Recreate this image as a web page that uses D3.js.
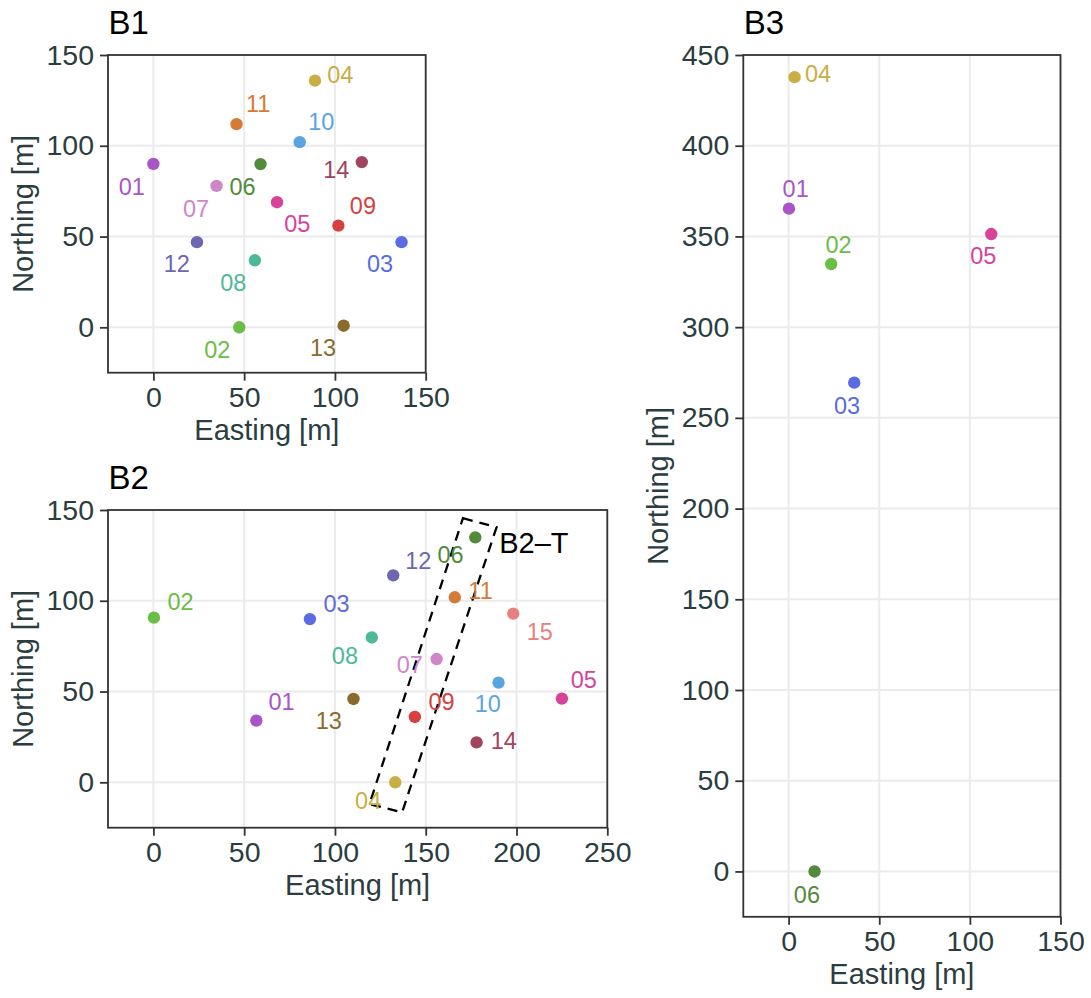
<!DOCTYPE html>
<html>
<head>
<meta charset="utf-8">
<script src="https://cdn.jsdelivr.net/npm/d3@7"></script>
<style>
  html, body { margin: 0; padding: 0; background: #fff; }
  svg { display: block; }
</style>
</head>
<body>
<div id="chart"></div>
<script>
// ---------------- DATA ----------------
const palette = {
  "01": "#A855C8", "02": "#6ABD45", "03": "#5B6BE0", "04": "#C8AE45",
  "05": "#D8439A", "06": "#538A3B", "07": "#CF86C8", "08": "#4DB998",
  "09": "#D64040", "10": "#5AA5E0", "11": "#D67A38", "12": "#6B67B0",
  "13": "#8A6B2D", "14": "#A0445F", "15": "#E88080"
};

// B1 stations
const b1Ids      = ["01","02","03","04","05","06","07","08","09","10","11","12","13","14"];
const b1Easting  = [0, 47.3, 136.7, 89, 68.1, 59, 34.8, 55.9, 101.9, 80.6, 45.8, 24, 104.8, 114.8];
const b1Northing = [90, 0, 46.9, 135.9, 68.9, 89.9, 77.9, 36.9, 56, 102, 111.9, 46.9, 0.9, 91];
// repelled label positions (data units)
const b1LabelE   = [-11.9, 35.2, 124.9, 103, 79.3, 49.1, 23.5, 44, 115.4, 92.5, 57.7, 12.9, 93.4, 100.8];
const b1LabelN   = [77.5, -12.5, 34.9, 139.5, 57.3, 77.5, 65.6, 24.8, 66.9, 113.3, 123.1, 34.9, -11, 86.7];

// B2 stations
const b2Ids      = ["01","02","03","04","05","06","07","08","09","10","11","12","13","14","15"];
const b2Easting  = [56.7, 0.3, 86.2, 133.2, 225, 177.3, 156, 120.3, 144, 190.1, 166, 132.1, 110.2, 178, 198.2];
const b2Northing = [34, 90.7, 89.9, 0, 46.1, 134.9, 67.9, 79.8, 36, 54.9, 101.9, 114, 45.9, 22, 92.9];
const b2LabelE   = [70.6, 15, 100.9, 118.3, 237.1, 163.7, 141.2, 105.5, 158.7, 184.2, 180.2, 145.9, 96.6, 193, 212.8];
const b2LabelN   = [44.6, 99.7, 98.4, -9.9, 56.6, 125.4, 65.1, 69.9, 44.6, 43.3, 105.6, 122.2, 34.1, 23.1, 83.1];

// B2-T transect outline (data units)
const transectE = [170.5, 189, 137, 119];
const transectN = [145.5, 140.5, -16.5, -12];
const transectLabel = "B2\u2013T";
const transectLabelPos = [190.5, 132.3];

// B3 stations
const b3Ids      = ["01","02","03","04","05","06"];
const b3Easting  = [0.2, 23.5, 36.2, 3.3, 111.8, 14.3];
const b3Northing = [365.3, 334.8, 269.4, 437.8, 351.3, 0];
const b3LabelE   = [3.9, 27.5, 32.2, 16.2, 107.4, 10.1];
const b3LabelN   = [376.5, 345.8, 256.6, 439.9, 339.2, -12.5];

// Axis ticks
const ticks150 = [0, 50, 100, 150];
const ticks250 = [0, 50, 100, 150, 200, 250];
const ticks450 = [0, 50, 100, 150, 200, 250, 300, 350, 400, 450];

const xTitle = "Easting [m]";
const yTitle = "Northing [m]";

// ---------------- LAYOUT ----------------
const W = 1091, H = 998;
const svg = d3.select("#chart").append("svg")
  .attr("width", W).attr("height", H)
  .attr("viewBox", `0 0 ${W} ${H}`);
svg.append("rect").attr("width", W).attr("height", H).attr("fill", "#fff");

const FONT = "'Liberation Sans', Arial, Helvetica, sans-serif";
const TXT = "#2B3D40";
const AXC = "#333333";

const panels = [
  { title: "B1", left: 108, top: 55, right: 425.7, bottom: 372.7,
    xd: [-25, 150], yd: [-25, 150], xt: ticks150, yt: ticks150,
    ids: b1Ids, e: b1Easting, n: b1Northing, le: b1LabelE, ln: b1LabelN },
  { title: "B2", left: 108, top: 510, right: 607.3, bottom: 827.7,
    xd: [-25, 250], yd: [-25, 150], xt: ticks250, yt: ticks150,
    ids: b2Ids, e: b2Easting, n: b2Northing, le: b2LabelE, ln: b2LabelN, transect: true },
  { title: "B3", left: 743.3, top: 55, right: 1060.5, bottom: 916.8,
    xd: [-25, 150], yd: [-25, 450], xt: ticks150, yt: ticks450,
    ids: b3Ids, e: b3Easting, n: b3Northing, le: b3LabelE, ln: b3LabelN }
];

panels.forEach(p => {
  const x = d3.scaleLinear().domain(p.xd).range([p.left, p.right]);
  const y = d3.scaleLinear().domain(p.yd).range([p.bottom, p.top]);
  const g = svg.append("g");

  // grid
  g.selectAll(".gx").data(p.xt).enter().append("line")
    .attr("x1", d => x(d)).attr("x2", d => x(d))
    .attr("y1", p.top).attr("y2", p.bottom)
    .attr("stroke", "#EBEBEB").attr("stroke-width", 2);
  g.selectAll(".gy").data(p.yt).enter().append("line")
    .attr("y1", d => y(d)).attr("y2", d => y(d))
    .attr("x1", p.left).attr("x2", p.right)
    .attr("stroke", "#EBEBEB").attr("stroke-width", 2);

  // transect
  if (p.transect) {
    const pts = transectE.map((e, i) => [x(e), y(transectN[i])]);
    g.append("path")
      .attr("d", d3.line()(pts) + "Z")
      .attr("fill", "none").attr("stroke", "#000")
      .attr("stroke-width", 2.3).attr("stroke-dasharray", "10,7");
    g.append("text")
      .attr("x", x(transectLabelPos[0])).attr("y", y(transectLabelPos[1]))
      .attr("dy", "0.36em")
      .attr("font-family", FONT).attr("font-size", 29).attr("fill", "#000")
      .text(transectLabel);
  }

  // points
  const idx = d3.range(p.ids.length);
  g.selectAll(".pt").data(idx).enter().append("circle")
    .attr("cx", i => x(p.e[i])).attr("cy", i => y(p.n[i]))
    .attr("r", 6.2).attr("fill", i => palette[p.ids[i]]);
  g.selectAll(".lb").data(idx).enter().append("text")
    .attr("x", i => x(p.le[i])).attr("y", i => y(p.ln[i]))
    .attr("dy", "0.36em").attr("text-anchor", "middle")
    .attr("font-family", FONT).attr("font-size", 23.5)
    .attr("fill", i => palette[p.ids[i]])
    .text(i => p.ids[i]);

  // border
  g.append("rect")
    .attr("x", p.left).attr("y", p.top)
    .attr("width", p.right - p.left).attr("height", p.bottom - p.top)
    .attr("fill", "none").attr("stroke", AXC).attr("stroke-width", 1.8);

  // x axis
  const xa = g.append("g").attr("transform", `translate(0,${p.bottom})`)
    .call(d3.axisBottom(x).tickValues(p.xt).tickSize(8).tickPadding(6).tickFormat(d3.format("d")));
  xa.select(".domain").remove();
  xa.selectAll("line").attr("stroke", AXC).attr("stroke-width", 1.8);
  xa.selectAll("text").attr("font-family", FONT).attr("font-size", 28.5).attr("fill", TXT);

  // y axis
  const ya = g.append("g").attr("transform", `translate(${p.left},0)`)
    .call(d3.axisLeft(y).tickValues(p.yt).tickSize(8).tickPadding(6).tickFormat(d3.format("d")));
  ya.select(".domain").remove();
  ya.selectAll("line").attr("stroke", AXC).attr("stroke-width", 1.8);
  ya.selectAll("text").attr("font-family", FONT).attr("font-size", 28.5).attr("fill", TXT);

  // axis titles
  g.append("text")
    .attr("x", (p.left + p.right) / 2).attr("y", p.bottom + 67.5)
    .attr("text-anchor", "middle")
    .attr("font-family", FONT).attr("font-size", 29).attr("fill", TXT)
    .text(xTitle);
  g.append("text")
    .attr("transform", `translate(${p.left - 75},${(p.top + p.bottom) / 2}) rotate(-90)`)
    .attr("text-anchor", "middle")
    .attr("font-family", FONT).attr("font-size", 29).attr("fill", TXT)
    .text(yTitle);

  // panel title
  g.append("text")
    .attr("x", p.left + 0.5).attr("y", p.top - 21)
    .attr("font-family", FONT).attr("font-size", 33).attr("fill", "#000")
    .text(p.title);
});
</script>
</body>
</html>
